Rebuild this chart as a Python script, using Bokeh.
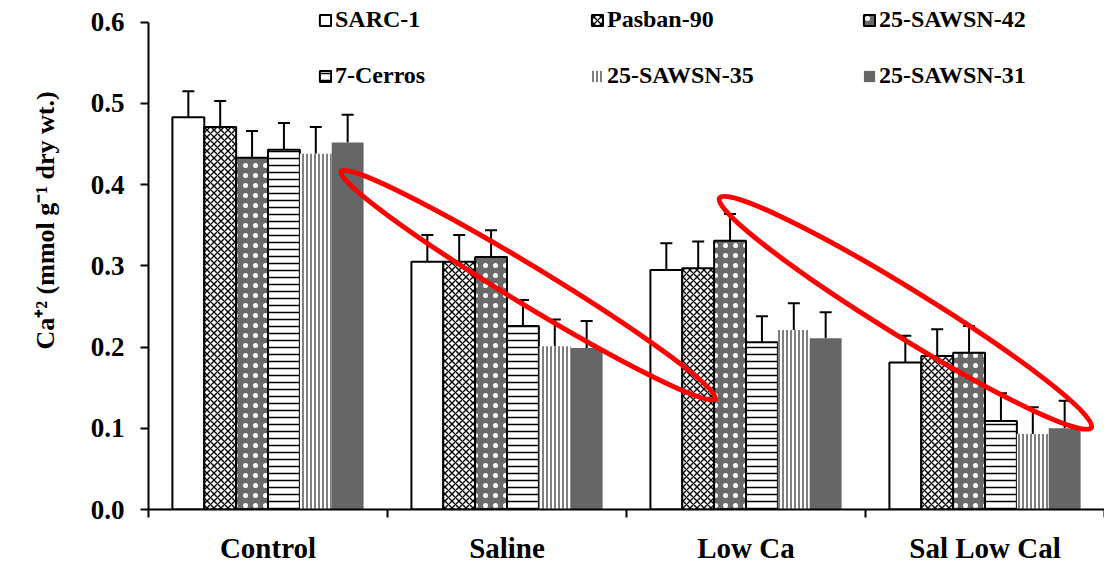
import math

from bokeh.embed import file_html
from bokeh.models import (ColumnDataSource, FixedTicker, Legend, LegendItem,
                          NumeralTickFormatter, Range1d, TeeHead, Title, Whisker)
from bokeh.plotting import figure
from bokeh.resources import INLINE

# --- data -------------------------------------------------------------------
treatments = ["Control", "Saline", "Low Ca", "Sal Low Cal"]
genotypes = ["SARC-1", "Pasban-90", "25-SAWSN-42", "7-Cerros", "25-SAWSN-35", "25-SAWSN-31"]

# Ca+2 content (mmol g-1 dry wt.) per treatment
sarc_1 = [0.483, 0.305, 0.295, 0.181]
pasban_90 = [0.471, 0.305, 0.297, 0.189]
sawsn_42 = [0.433, 0.311, 0.331, 0.193]
cerros_7 = [0.443, 0.226, 0.206, 0.109]
sawsn_35 = [0.438, 0.201, 0.221, 0.093]
sawsn_31 = [0.452, 0.199, 0.211, 0.100]

# standard errors
sarc_1_se = [0.032, 0.033, 0.033, 0.033]
pasban_90_se = [0.032, 0.033, 0.033, 0.033]
sawsn_42_se = [0.033, 0.033, 0.033, 0.033]
cerros_7_se = [0.033, 0.032, 0.032, 0.034]
sawsn_35_se = [0.033, 0.033, 0.033, 0.033]
sawsn_31_se = [0.034, 0.033, 0.032, 0.034]

y_ticks = [0.0, 0.1, 0.2, 0.3, 0.4, 0.5, 0.6]
y_max = 0.6

values = [sarc_1, pasban_90, sawsn_42, cerros_7, sawsn_35, sawsn_31]
errors = [sarc_1_se, pasban_90_se, sawsn_42_se, cerros_7_se, sawsn_35_se, sawsn_31_se]

# --- bar styles -------------------------------------------------------------
styles = [
    dict(fill_color="white", line_color="black", line_width=2),
    dict(fill_color="white", line_color="black", line_width=2,
         hatch_pattern="diagonal_cross", hatch_color="black", hatch_scale=7, hatch_weight=1.4),
    dict(fill_color="#6a6a6a", line_color="black", line_width=2,
         hatch_pattern="dot", hatch_color="white", hatch_scale=10, hatch_weight=2),
    dict(fill_color="white", line_color="black", line_width=2,
         hatch_pattern="horizontal_line", hatch_color="black", hatch_scale=7, hatch_weight=1.5),
    dict(fill_color="white", line_color=None,
         hatch_pattern="vertical_line", hatch_color="black", hatch_scale=4, hatch_weight=1),
    dict(fill_color="#666666", line_color=None),
]

FONT = "Liberation Serif"
n_groups = len(treatments)
n_series = len(genotypes)
bar_w = 0.8 / n_series

# a little headroom above the top tick leaves space for the legend rows
p = figure(width=1104, height=566, x_range=Range1d(0, n_groups),
           y_range=Range1d(0, y_max * 515 / 493),
           output_backend="svg", toolbar_location=None,
           min_border_left=148, min_border_right=0, min_border_top=0, min_border_bottom=51)
p.outline_line_color = None
p.xgrid.visible = False
p.ygrid.visible = False

renderers = []
for j, (name, vals, errs, st) in enumerate(zip(genotypes, values, errors, styles)):
    xs = [i + 0.5 + (j - (n_series - 1) / 2) * bar_w for i in range(n_groups)]
    src = ColumnDataSource(dict(x=xs, top=vals, upper=[v + e for v, e in zip(vals, errs)]))
    r = p.vbar(x="x", top="top", bottom=0, width=bar_w, source=src, **st)
    renderers.append(r)
    p.add_layout(Whisker(source=src, base="x", lower="top", upper="upper",
                         line_color="black", line_width=2, lower_head=None,
                         upper_head=TeeHead(size=12, line_color="black", line_width=2)))

# --- highlight ellipses -----------------------------------------------------
p.ellipse(x=[1.588, 3.167], y=[0.2763, 0.2422], width=[438, 437], height=[38, 47],
          angle=[math.radians(-31.3), math.radians(-31.7)],
          width_units="screen", height_units="screen",
          fill_color=None, line_color="#ff0000", line_width=5, level="overlay")

# --- axes -------------------------------------------------------------------
yax = p.yaxis[0]
yax.ticker = FixedTicker(ticks=y_ticks)
yax.bounds = (0, y_max)
yax.formatter = NumeralTickFormatter(format="0.0")
yax.axis_line_width = 2
yax.axis_line_color = "black"
yax.major_tick_line_width = 2
yax.major_tick_line_color = "black"
yax.major_tick_out = 8
yax.major_tick_in = 0
yax.minor_tick_out = 0
yax.minor_tick_in = 0
yax.major_label_standoff = 16
yax.major_label_text_font = FONT
yax.major_label_text_font_style = "bold"
yax.major_label_text_font_size = "27px"
yax.major_label_text_color = "black"

xax = p.xaxis[0]
xax.ticker = FixedTicker(ticks=[i + 0.5 for i in range(n_groups)],
                         minor_ticks=list(range(n_groups + 1)))
xax.major_label_overrides = {i + 0.5: t for i, t in enumerate(treatments)}
xax.axis_line_width = 2
xax.axis_line_color = "black"
xax.major_tick_out = 0
xax.major_tick_in = 0
xax.minor_tick_out = 8
xax.minor_tick_in = 0
xax.minor_tick_line_width = 2
xax.minor_tick_line_color = "black"
xax.major_label_standoff = 14
xax.major_label_text_font = FONT
xax.major_label_text_font_style = "bold"
xax.major_label_text_font_size = "29px"
xax.major_label_text_color = "black"

# vertical axis title, set in its own panel left of the tick labels
p.add_layout(Title(text="Ca\u207a\u00b2 (mmol g\u207b\u00b9 dry wt.)",
                   align="left", offset=160, vertical_align="bottom", standoff=56,
                   text_font=FONT, text_font_style="bold", text_font_size="26px",
                   text_color="black"), "left")

# --- legend: three columns of two entries ---------------------------------
for c, vx in enumerate([170, 442, 714]):
    leg = Legend(items=[LegendItem(label=genotypes[c], renderers=[renderers[c]]),
                        LegendItem(label=genotypes[c + 3], renderers=[renderers[c + 3]])],
                 location=(vx, 420), orientation="vertical",
                 glyph_width=14, glyph_height=14, label_standoff=3, spacing=29,
                 padding=0, margin=0, border_line_color=None, background_fill_alpha=0,
                 label_text_font=FONT, label_text_font_style="bold",
                 label_text_font_size="24px", label_text_color="black")
    p.add_layout(leg)

open("out.html", "w").write(file_html(p, INLINE))
